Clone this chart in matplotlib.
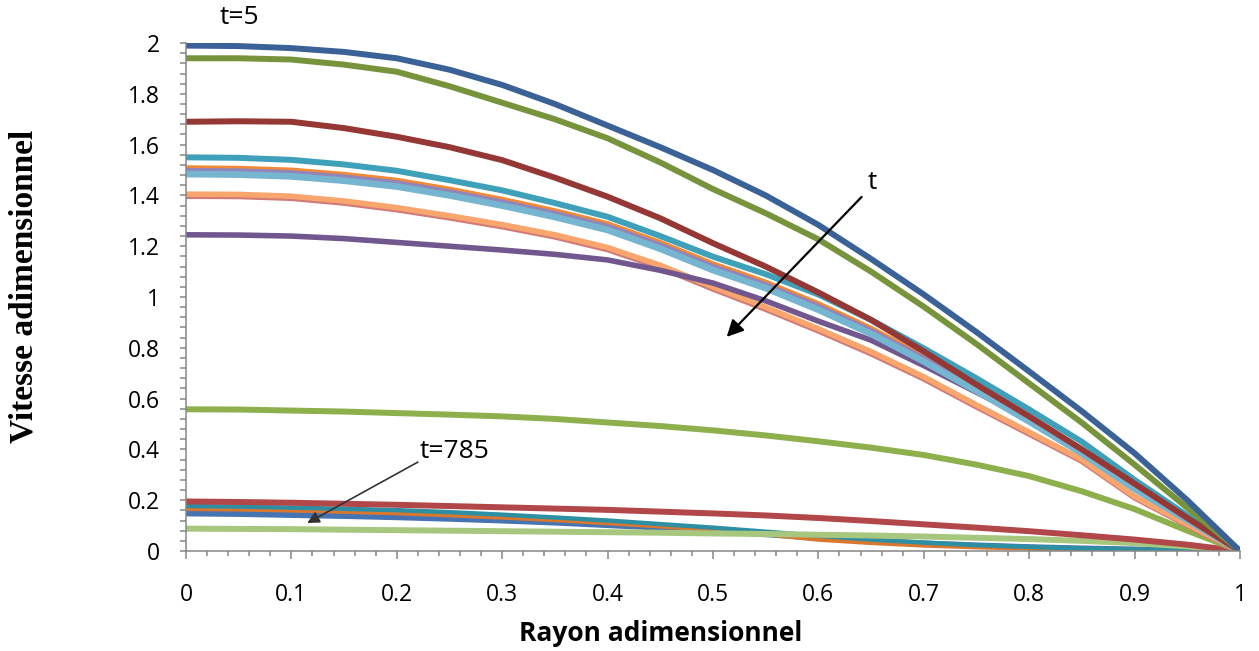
import matplotlib
matplotlib.use("Agg")
import matplotlib.pyplot as plt
from matplotlib.ticker import MultipleLocator

# rayon adimensionnel
r = [0.0, 0.05, 0.1, 0.15, 0.2, 0.25, 0.3, 0.35, 0.4, 0.45, 0.5,
     0.55, 0.6, 0.65, 0.7, 0.75, 0.8, 0.85, 0.9, 0.95, 1.0]

# vitesse adimensionnelle, one profile per instant
v_blue_bot = [0.148, 0.146, 0.142, 0.138, 0.133, 0.127, 0.120, 0.112, 0.102, 0.092, 0.080,
              0.066, 0.052, 0.040, 0.030, 0.022, 0.015, 0.010, 0.006, 0.003, 0.0]
v_orange_bot = [0.166, 0.164, 0.160, 0.155, 0.149, 0.141, 0.132, 0.122, 0.110, 0.097, 0.084,
                0.066, 0.045, 0.032, 0.022, 0.015, 0.010, 0.006, 0.004, 0.002, 0.0]
v_teal_bot = [0.177, 0.175, 0.171, 0.166, 0.161, 0.153, 0.143, 0.132, 0.120, 0.106, 0.092,
              0.076, 0.060, 0.045, 0.033, 0.023, 0.016, 0.010, 0.006, 0.003, 0.0]
v_lgreen = [0.088, 0.087, 0.086, 0.084, 0.082, 0.080, 0.078, 0.076, 0.074, 0.072, 0.069,
            0.067, 0.064, 0.061, 0.057, 0.052, 0.047, 0.040, 0.031, 0.018, 0.0]
v_red_bot = [0.195, 0.193, 0.190, 0.186, 0.182, 0.177, 0.172, 0.167, 0.162, 0.155, 0.148,
             0.140, 0.130, 0.118, 0.105, 0.092, 0.078, 0.062, 0.045, 0.025, 0.0]
v_green_mid = [0.558, 0.557, 0.553, 0.549, 0.543, 0.537, 0.530, 0.520, 0.506, 0.492, 0.475,
               0.455, 0.432, 0.407, 0.378, 0.340, 0.295, 0.235, 0.165, 0.080, 0.0]
v_purple = [1.245, 1.244, 1.240, 1.230, 1.215, 1.200, 1.185, 1.168, 1.146, 1.105, 1.055,
            0.985, 0.905, 0.830, 0.730, 0.625, 0.520, 0.395, 0.250, 0.125, 0.0]
v_peach = [1.405, 1.404, 1.397, 1.378, 1.352, 1.320, 1.285, 1.245, 1.195, 1.125, 1.040,
           0.960, 0.875, 0.785, 0.686, 0.575, 0.468, 0.360, 0.215, 0.105, 0.0]
v_peach_edge = [1.399, 1.398, 1.391, 1.372, 1.346, 1.314, 1.279, 1.239, 1.189, 1.119, 1.034,
                0.954, 0.869, 0.779, 0.680, 0.570, 0.463, 0.356, 0.212, 0.103, 0.0]
v_lblue = [1.484, 1.482, 1.475, 1.458, 1.435, 1.400, 1.360, 1.315, 1.264, 1.190, 1.106,
           1.035, 0.950, 0.855, 0.746, 0.630, 0.510, 0.385, 0.245, 0.122, 0.0]
v_lilac = [1.497, 1.495, 1.488, 1.471, 1.448, 1.413, 1.373, 1.328, 1.277, 1.203, 1.119,
           1.047, 0.962, 0.866, 0.757, 0.640, 0.518, 0.392, 0.250, 0.125, 0.0]
v_orange = [1.507, 1.505, 1.498, 1.481, 1.458, 1.423, 1.383, 1.338, 1.287, 1.213, 1.129,
            1.057, 0.972, 0.875, 0.766, 0.648, 0.525, 0.398, 0.254, 0.127, 0.0]
v_aqua = [1.550, 1.548, 1.540, 1.522, 1.497, 1.460, 1.420, 1.370, 1.316, 1.240, 1.159,
          1.090, 1.010, 0.910, 0.798, 0.680, 0.557, 0.430, 0.280, 0.140, 0.0]
v_dred = [1.690, 1.692, 1.690, 1.665, 1.631, 1.590, 1.539, 1.470, 1.395, 1.310, 1.212,
          1.120, 1.018, 0.910, 0.786, 0.655, 0.530, 0.400, 0.265, 0.130, 0.0]
v_olive = [1.940, 1.940, 1.935, 1.915, 1.887, 1.830, 1.765, 1.700, 1.625, 1.530, 1.425,
           1.330, 1.227, 1.100, 0.962, 0.815, 0.660, 0.505, 0.340, 0.170, 0.0]
v_dblue = [1.990, 1.988, 1.980, 1.965, 1.940, 1.895, 1.835, 1.760, 1.675, 1.590, 1.500,
           1.400, 1.284, 1.150, 1.010, 0.862, 0.707, 0.550, 0.385, 0.200, 0.0]

series = [
    (v_blue_bot, "#4673B1", 4.3),
    (v_orange_bot, "#D9772F", 3.2),
    (v_teal_bot, "#2E8FA3", 3.2),
    (v_lgreen, "#A8C77E", 4.3),
    (v_red_bot, "#B2474A", 4.3),
    (v_green_mid, "#8DB04D", 4.3),
    (v_peach_edge, "#D27A78", 4.8),
    (v_peach, "#F9A66E", 4.0),
    (v_purple, "#72578F", 4.0),
    (v_orange, "#F08A36", 4.3),
    (v_lilac, "#9485B8", 4.3),
    (v_lblue, "#75B5D0", 4.8),
    (v_aqua, "#3FA0BA", 4.3),
    (v_dred, "#953735", 4.3),
    (v_olive, "#77933C", 4.3),
    (v_dblue, "#3A6296", 4.3),
]

fig = plt.figure(figsize=(12.59, 6.51), dpi=100)
ax = fig.add_axes([0.1477, 0.1536, 0.8372, 0.7803])

for vals, col, lw in series:
    ax.plot(r, vals, color=col, lw=lw, solid_capstyle="butt", solid_joinstyle="round")

ax.set_xlim(0, 1)
ax.set_ylim(0, 2)
ax.xaxis.set_minor_locator(MultipleLocator(0.02))
ax.yaxis.set_minor_locator(MultipleLocator(0.04))
ax.set_xticks([0, 0.1, 0.2, 0.3, 0.4, 0.5, 0.6, 0.7, 0.8, 0.9, 1],
              ["0", "0.1", "0.2", "0.3", "0.4", "0.5", "0.6", "0.7", "0.8", "0.9", "1"])
ax.set_yticks([0, 0.2, 0.4, 0.6, 0.8, 1, 1.2, 1.4, 1.6, 1.8, 2],
              ["0", "0.2", "0.4", "0.6", "0.8", "1", "1.2", "1.4", "1.6", "1.8", "2"])

for s in ["top", "right"]:
    ax.spines[s].set_visible(False)
for s in ["left", "bottom"]:
    ax.spines[s].set_color("#868686")
    ax.spines[s].set_linewidth(1.1)

ax.tick_params(axis="x", which="major", length=6, width=1.1, color="#868686",
               labelsize=16.5, pad=17)
ax.tick_params(axis="x", which="minor", length=3.5, width=1.1, color="#868686")
ax.tick_params(axis="y", which="both", length=4, width=1.1, color="#868686",
               labelsize=16.5, pad=15)
for lab in ax.get_xticklabels() + ax.get_yticklabels():
    lab.set_fontfamily("Open Sans")

ax.set_xlabel("Rayon adimensionnel", fontsize=19, fontweight="bold", family="Open Sans")
ax.xaxis.set_label_coords(0.45, -0.135)
ax.set_ylabel("Vitesse adimensionnel", fontsize=24, fontweight="bold",
              family="Liberation Serif")
ax.yaxis.set_label_coords(-0.139, 0.52)

# annotations
ax.text(0.051, 2.10, "t=5", fontsize=19, family="Open Sans",
        ha="center", va="center", clip_on=False)
ax.text(0.651, 1.449, "t", fontsize=19, family="Open Sans",
        ha="center", va="center")
ax.annotate("", xy=(0.513, 0.843), xytext=(0.641, 1.394),
            arrowprops=dict(arrowstyle="-|>", color="black", lw=1.6,
                            mutation_scale=25, shrinkA=0, shrinkB=0))
ax.text(0.255, 0.39, "t=785", fontsize=19, family="Open Sans",
        ha="center", va="center")
ax.annotate("", xy=(0.115, 0.110), xytext=(0.220, 0.350),
            arrowprops=dict(arrowstyle="-|>", color="#333333", lw=1.2,
                            mutation_scale=18, shrinkA=0, shrinkB=0))

fig.savefig("out.png", dpi=100)
